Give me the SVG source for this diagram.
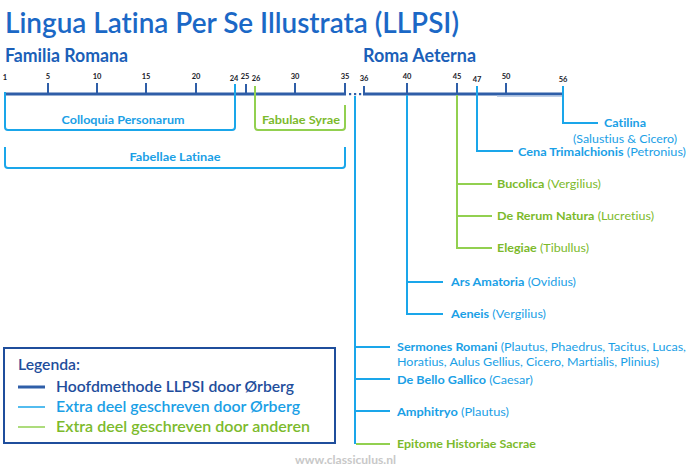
<svg xmlns="http://www.w3.org/2000/svg" width="688" height="470" viewBox="0 0 688 470">
<style>
text{font-family:Lato,"Open Sans","Liberation Sans",sans-serif;font-variant-ligatures:none;font-feature-settings:"liga" 0,"clig" 0}
.title{font-size:28px;font-weight:600;fill:#1b68c6}
.head{font-size:18px;font-weight:700;fill:#1b5fb8}
.tick{font-size:7.5px;font-weight:700;fill:#1a1a2a;text-anchor:middle}
.lb{font-size:11.5px;fill:#1aa0e6}
.lg{font-size:11.5px;fill:#7cba2c}
.b{font-weight:700}
.main{stroke:#2f5ea8;stroke-width:3;fill:none}
.tk{stroke:#2f5ea8;stroke-width:2;fill:none}
.blue{stroke:#1aa6ea;stroke-width:2;fill:none}
.green{stroke:#92d050;stroke-width:2;fill:none}
.leg{font-size:15px;font-weight:600}
</style>
<rect width="688" height="470" fill="#ffffff"/>
<g id="title"><text class="title" x="5" y="33" textLength="454" lengthAdjust="spacingAndGlyphs">Lingua Latina Per Se Illustrata (LLPSI)</text></g>
<g id="familia-romana"><text class="head" x="5" y="62" textLength="123" lengthAdjust="spacingAndGlyphs">Familia Romana</text></g>
<g id="roma-aeterna"><text class="head" x="363" y="62" textLength="113" lengthAdjust="spacingAndGlyphs">Roma Aeterna</text></g>
<g id="timeline">
<line class="main" x1="5" y1="94" x2="346" y2="94"/>
<line class="main" x1="363" y1="94" x2="564" y2="94"/>
<line x1="497" y1="96" x2="563" y2="96" stroke="#a9bfe0" stroke-width="1.5"/>
<rect x="349" y="93" width="2.2" height="2.2" fill="#2f5ea8"/>
<rect x="354" y="93" width="2.2" height="2.2" fill="#2f5ea8"/>
<rect x="359" y="93" width="2.2" height="2.2" fill="#2f5ea8"/>
<path class="tk" d="M48 83V94M97 83V94M146 83V94M196 83V94M246 84V94M295 83V94M345 83V94M364 86V94M407 83V94M457 83V94M506 83V94"/>
<text class="tick" x="5" y="80">1</text>
<text class="tick" x="48" y="79">5</text>
<text class="tick" x="97" y="79">10</text>
<text class="tick" x="146" y="79">15</text>
<text class="tick" x="196" y="79">20</text>
<text class="tick" x="234" y="81">24</text>
<text class="tick" x="245" y="79">25</text>
<text class="tick" x="256" y="81">26</text>
<text class="tick" x="295" y="79">30</text>
<text class="tick" x="345" y="79">35</text>
<text class="tick" x="364" y="81">36</text>
<text class="tick" x="407" y="79">40</text>
<text class="tick" x="457" y="79">45</text>
<text class="tick" x="477" y="82">47</text>
<text class="tick" x="506" y="79">50</text>
<text class="tick" x="563" y="82">56</text>
</g>
<g id="connectors">
<path class="blue" d="M5 92V127Q5 130 8 130H232Q235 130 235 127V84"/>
<path class="green" d="M255 86V127Q255 130 258 130H342Q345 130 345 127V105"/>
<path class="blue" d="M5 147V165Q5 168 8 168H342Q345 168 345 165V147"/>
<path class="blue" d="M563 86V123H598"/>
<path class="blue" d="M477 86V151H513"/>
<path class="green" d="M457 95V248H492M457 184H492M457 216H492"/>
<path class="blue" d="M407 95V314H443M407 282H443"/>
<path class="blue" d="M355 96V444M355 347H390M355 379H390M355 411H390" stroke-width="2.5"/>
<path class="green" d="M356 444H390"/>
</g>
<g id="colloquia-personarum"><text class="lb b" x="123" y="124" text-anchor="middle" textLength="123" lengthAdjust="spacingAndGlyphs">Colloquia Personarum</text></g>
<g id="fabulae-syrae"><text class="lg b" x="301" y="124" text-anchor="middle" textLength="78" lengthAdjust="spacingAndGlyphs">Fabulae Syrae</text></g>
<g id="fabellae-latinae"><text class="lb b" x="175" y="161" text-anchor="middle" textLength="91" lengthAdjust="spacingAndGlyphs">Fabellae Latinae</text></g>
<g id="catilina">
<text class="lb b" x="604" y="127" textLength="42" lengthAdjust="spacingAndGlyphs">Catilina</text>
<text class="lb" x="573" y="143" textLength="104" lengthAdjust="spacingAndGlyphs">(Salustius &amp; Cicero)</text>
</g>
<g id="cena-trimalchionis"><text class="lb" x="518" y="156" textLength="168" lengthAdjust="spacingAndGlyphs"><tspan class="b">Cena Trimalchionis</tspan> (Petronius)</text></g>
<g id="bucolica"><text class="lg" x="497" y="188" textLength="104" lengthAdjust="spacingAndGlyphs"><tspan class="b">Bucolica</tspan> (Vergilius)</text></g>
<g id="de-rerum-natura"><text class="lg" x="497" y="220" textLength="157" lengthAdjust="spacingAndGlyphs"><tspan class="b">De Rerum Natura</tspan> (Lucretius)</text></g>
<g id="elegiae"><text class="lg" x="497" y="252" textLength="92" lengthAdjust="spacingAndGlyphs"><tspan class="b">Elegiae</tspan> (Tibullus)</text></g>
<g id="ars-amatoria"><text class="lb" x="451" y="286" textLength="125" lengthAdjust="spacingAndGlyphs"><tspan class="b">Ars Amatoria</tspan> (Ovidius)</text></g>
<g id="aeneis"><text class="lb" x="451" y="318" textLength="95" lengthAdjust="spacingAndGlyphs"><tspan class="b">Aeneis</tspan> (Vergilius)</text></g>
<g id="sermones-romani">
<text class="lb" x="397" y="351" textLength="289" lengthAdjust="spacingAndGlyphs"><tspan class="b">Sermones Romani</tspan> (Plautus, Phaedrus, Tacitus, Lucas,</text>
<text class="lb" x="397" y="366" textLength="262" lengthAdjust="spacingAndGlyphs">Horatius, Aulus Gellius, Cicero, Martialis, Plinius)</text>
</g>
<g id="de-bello-gallico"><text class="lb" x="397" y="384" textLength="136" lengthAdjust="spacingAndGlyphs"><tspan class="b">De Bello Gallico</tspan> (Caesar)</text></g>
<g id="amphitryo"><text class="lb" x="397" y="416" textLength="112" lengthAdjust="spacingAndGlyphs"><tspan class="b">Amphitryo</tspan> (Plautus)</text></g>
<g id="epitome"><text class="lg b" x="397" y="448" textLength="139" lengthAdjust="spacingAndGlyphs">Epitome Historiae Sacrae</text></g>
<g id="legend">
<rect x="4" y="348" width="331" height="95" fill="#ffffff" stroke="#1f4e9c" stroke-width="2"/>
<text class="leg" x="18" y="370" fill="#1f4e9c" textLength="62" lengthAdjust="spacingAndGlyphs">Legenda:</text>
<line x1="18" y1="387" x2="45" y2="387" stroke="#2f5ea8" stroke-width="3"/>
<text class="leg" x="56" y="392" fill="#1f4e9c" textLength="238" lengthAdjust="spacingAndGlyphs">Hoofdmethode LLPSI door Ørberg</text>
<line x1="18" y1="407" x2="45" y2="407" stroke="#1aa6ea" stroke-width="1.5"/>
<text class="leg" x="56" y="412" fill="#1aa0e6" textLength="244" lengthAdjust="spacingAndGlyphs">Extra deel geschreven door Ørberg</text>
<line x1="18" y1="427" x2="45" y2="427" stroke="#92d050" stroke-width="1.5"/>
<text class="leg" x="56" y="432" fill="#7cba2c" textLength="254" lengthAdjust="spacingAndGlyphs">Extra deel geschreven door anderen</text>
</g>
<g id="watermark"><text x="295" y="464" font-size="12" font-weight="700" fill="#c8c8c8" textLength="101" lengthAdjust="spacingAndGlyphs">www.classiculus.nl</text></g>
</svg>
